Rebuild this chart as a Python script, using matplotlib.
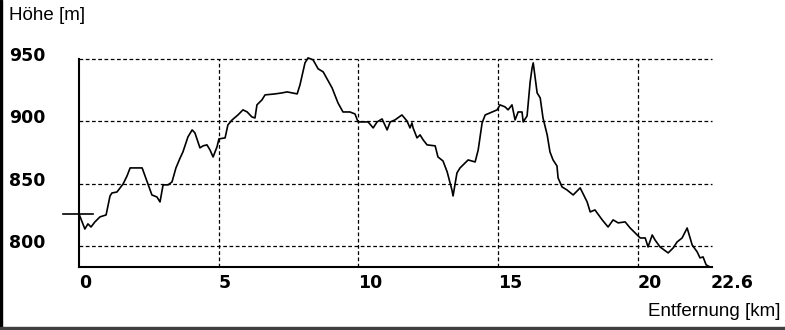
import matplotlib
matplotlib.use("Agg")
import matplotlib.pyplot as plt
from matplotlib.patches import Rectangle
from matplotlib.transforms import blended_transform_factory

# Elevation profile: distance [km] and height [m]
dist_km = [0.00, 0.11, 0.21, 0.32, 0.43, 0.57, 0.75, 0.97, 1.11, 1.18,
           1.36, 1.58, 1.72, 1.83, 2.26, 2.44, 2.61, 2.79, 2.90, 3.01,
           3.19, 3.33, 3.47, 3.62, 3.72, 3.90, 4.05, 4.15, 4.33, 4.44,
           4.58, 4.69, 4.80, 4.94, 5.01, 5.23, 5.33, 5.48, 5.69, 5.87,
           6.02, 6.19, 6.30, 6.37, 6.55, 6.66, 7.02, 7.27, 7.45, 7.63,
           7.81, 7.91, 8.09, 8.20, 8.38, 8.56, 8.74, 9.06, 9.27, 9.45,
           9.70, 9.88, 9.99, 10.35, 10.53, 10.67, 10.85, 11.03, 11.14, 11.31,
           11.56, 11.74, 11.85, 11.92, 11.96, 12.10, 12.21, 12.32, 12.46, 12.75,
           12.85, 13.03, 13.18, 13.35, 13.39, 13.53, 13.64, 13.82, 13.93, 14.18,
           14.29, 14.43, 14.54, 14.79, 14.97, 15.07, 15.25, 15.36, 15.50, 15.61,
           15.72, 15.86, 15.90, 16.04, 16.15, 16.22, 16.26, 16.33, 16.40, 16.51,
           16.61, 16.76, 16.86, 16.97, 17.11, 17.15, 17.29, 17.47, 17.69, 17.94,
           18.19, 18.30, 18.47, 18.73, 18.94, 19.12, 19.30, 19.55, 19.73, 19.98,
           20.09, 20.27, 20.37, 20.52, 20.62, 20.80, 21.09, 21.27, 21.41, 21.59,
           21.77, 21.95, 22.13, 22.23, 22.34, 22.45, 22.59]
height_m = [825.7, 819.3, 813.6, 817.7, 815.2, 819.3, 823.3, 824.9, 840.1, 842.5,
            843.3, 849.8, 856.2, 862.6, 862.6, 851.4, 840.9, 839.3, 835.3, 849.0,
            849.0, 851.4, 862.6, 870.6, 875.4, 887.5, 893.1, 890.7, 878.7, 880.3,
            881.1, 877.0, 871.4, 879.5, 885.9, 886.7, 897.1, 901.1, 905.1, 909.2,
            907.5, 903.5, 902.7, 913.2, 917.2, 921.2, 922.0, 922.8, 923.6, 922.8,
            922.0, 929.2, 946.9, 950.9, 949.3, 942.1, 939.7, 926.8, 914.8, 907.5,
            907.5, 905.9, 899.5, 899.5, 894.7, 899.5, 901.9, 893.1, 899.5, 901.1,
            905.1, 900.3, 894.7, 898.7, 894.7, 886.7, 889.1, 885.1, 881.1, 880.3,
            871.4, 868.2, 859.4, 844.9, 840.1, 858.6, 862.6, 866.6, 869.0, 867.4,
            877.0, 898.7, 905.1, 907.5, 909.2, 913.2, 911.6, 909.2, 913.2, 901.1,
            907.5, 907.5, 899.5, 904.3, 931.6, 942.9, 946.9, 934.8, 922.8, 918.8,
            902.7, 889.1, 875.4, 869.0, 864.2, 854.6, 847.4, 844.9, 840.9, 846.6,
            835.3, 827.3, 828.9, 820.9, 815.2, 820.9, 818.5, 819.3, 814.4, 808.8,
            806.4, 806.4, 799.2, 808.8, 804.8, 799.2, 794.4, 798.4, 803.2, 806.4,
            814.4, 800.8, 795.2, 790.4, 791.2, 784.8, 783.1]

x_ticks = [0, 5, 10, 15, 20, 22.6]
x_tick_labels = ["0", "5", "10", "15", "20", "22.6"]
y_ticks = [800, 850, 900, 950]
start_height = 825.7

fig = plt.figure(figsize=(7.85, 3.30), dpi=100)
fig.patch.set_facecolor("white")

ax = fig.add_axes([79 / 785, 1 - 267 / 330, (712 - 79) / 785, (267 - 59) / 330])
ax.set_xlim(0, 22.66)
ax.set_ylim(783.1, 950)

# dashed grid, only inside the plot
for y in y_ticks:
    ax.plot([0, 22.66], [y, y], color="black", lw=0.9, ls=(0, (3.0, 2.0)),
            clip_on=False, zorder=1)
for x in x_ticks[1:-1]:
    ax.plot([x, x], [783.1, 950], color="black", lw=0.9, ls=(0, (3.0, 2.0)),
            clip_on=False, zorder=1)

# profile line and start marker
ax.plot(dist_km, height_m, color="black", lw=1.2, clip_on=False, zorder=3)
ax.plot([-0.57, 0.5], [start_height, start_height], color="black", lw=1.2,
        clip_on=False, zorder=3)

for side in ["top", "right"]:
    ax.spines[side].set_visible(False)
for side in ["left", "bottom"]:
    ax.spines[side].set_linewidth(1.5)
ax.set_xticks([])
ax.set_yticks([])

tick_font = dict(family="DejaVu Sans", weight="bold", size=12.5)
xlab_trans = blended_transform_factory(ax.transData, fig.transFigure)
ylab_trans = blended_transform_factory(fig.transFigure, ax.transData)
for x, lab in zip(x_ticks, x_tick_labels):
    ax.text(x, 1 - 283 / 330, lab, transform=xlab_trans,
            ha="left", va="center", **tick_font)
for y in y_ticks:
    ax.text(9 / 785, y + 2.5, str(y), transform=ylab_trans,
            ha="left", va="center", **tick_font)

fig.text(9 / 785, 1 - 16 / 330, "Höhe [m]", family="Liberation Sans", size=13.5,
         ha="left", va="center")
fig.text(781 / 785, 1 - 312 / 330, "Entfernung [km]", family="Liberation Sans",
         size=13.5, ha="right", va="center")

# window frame: black left edge, dark bottom edge
fig.patches.append(Rectangle((0, 0), 2 / 785, 1, transform=fig.transFigure,
                             color="black", zorder=0))
fig.patches.append(Rectangle((0, 0), 1, 3 / 330, transform=fig.transFigure,
                             color="#404040", zorder=0))

plt.savefig("out.png", dpi=100)
